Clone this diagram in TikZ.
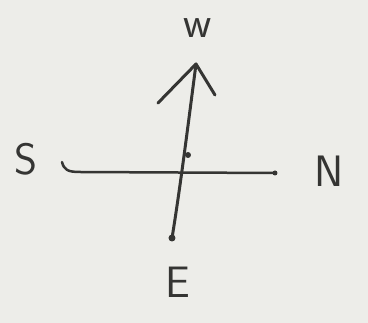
\documentclass[tikz,border=0pt]{standalone}
\begin{document}
\begin{tikzpicture}[x=1pt,y=-1pt,
  ink/.style={draw=inkc, line width=3pt, line cap=round, line join=round},
  lab/.style={text=inkc, inner sep=0pt, font=\fontsize{44}{44}\selectfont\sffamily},
  dotc/.style={fill=inkc, circle, inner sep=0pt, minimum size=7pt}]
\definecolor{inkc}{HTML}{353533}
\definecolor{paper}{HTML}{EDEDE9}
\fill[paper] (0,0) rectangle (368,323);
\useasboundingbox (0,0) rectangle (368,323);
% labels
\node[lab] (w) at (198,28) {w};
\node[lab] (s) at (26,159) {S};
\node[lab] (n) at (329,171) {N};
\node[lab] (e) at (178,282) {E};
% points
\node[dotc] (bot) at (172,238) {};
\coordinate (tip) at (196,64);
\coordinate (lb) at (158,103);
\coordinate (rb) at (215,95);
\coordinate (hl) at (62,162);
\node[dotc, minimum size=5pt] (hr) at (275,173) {};
\node[dotc, minimum size=6pt] (tick) at (188,155) {};
% shaft and head
\draw[ink] (bot.center) .. controls (180,190) and (190,110) .. (tip);
\draw[ink] (lb) -- (tip) -- (rb);
% horizontal line
\draw[ink, line width=2.5pt] (hl) .. controls (64,170) and (68,172) .. (80,172) -- (hr.center);
\end{tikzpicture}
\end{document}
